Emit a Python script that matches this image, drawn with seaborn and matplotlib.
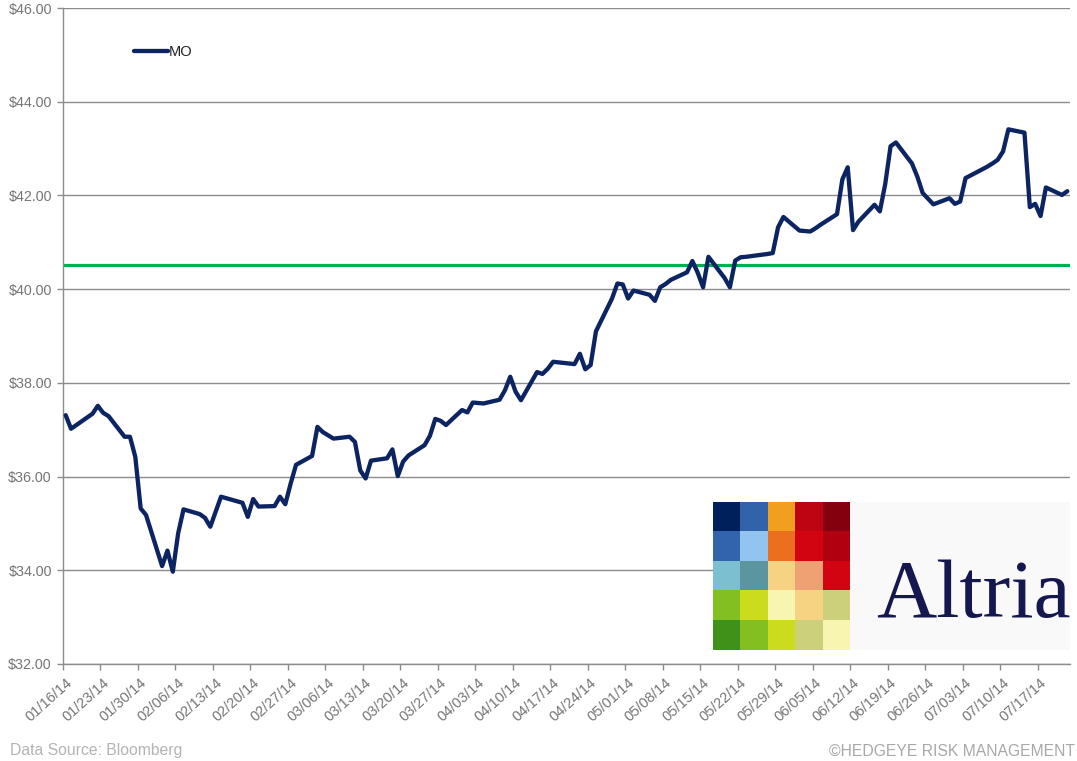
import numpy as np
import pandas as pd
import matplotlib
matplotlib.use("Agg")
import matplotlib.pyplot as plt
import matplotlib.dates as mdates
import matplotlib.transforms as mtrans
from matplotlib.ticker import FuncFormatter
import seaborn as sns

# trading days (NYSE holidays removed)
holidays = ["2014-01-20", "2014-02-17", "2014-04-18", "2014-05-26", "2014-07-04"]
trade_days = pd.bdate_range("2014-01-16", "2014-07-22").drop(pd.to_datetime(holidays))

# MO closing prices
mo_jan = [37.31, 37.02, 37.34, 37.51, 37.36, 37.29, 36.85, 36.85, 36.42, 35.32, 35.18]
mo_feb = [34.09, 34.42, 33.97, 34.79, 35.30, 35.20, 35.12, 34.93, 35.25, 35.57,
          35.44, 35.14, 35.52, 35.36, 35.37, 35.57, 35.41, 35.85, 36.25]
mo_mar = [36.44, 37.06, 36.95, 36.88, 36.81, 36.85, 36.74, 36.13, 35.96, 36.34,
          36.39, 36.58, 36.01, 36.32, 36.45, 36.67, 36.87, 37.23, 37.19, 37.10, 37.42]
mo_apr = [37.37, 37.58, 37.57, 37.56, 37.64, 37.84, 38.13, 37.81, 37.63, 38.23,
          38.19, 38.30, 38.45, 38.40, 38.62, 38.29, 38.38, 39.10, 39.80, 40.12, 40.10]
mo_may = [39.80, 39.97, 39.88, 39.75, 40.04, 40.11, 40.20, 40.36, 40.60, 40.35,
          40.04, 40.69, 40.24, 40.04, 40.61, 40.68, 40.69, 40.75, 40.77, 41.32, 41.54]
mo_jun = [41.25, 41.24, 41.23, 41.30, 41.38, 41.60, 42.34, 42.60, 41.26, 41.44,
          41.80, 41.66, 42.24, 43.05, 43.13, 42.68, 42.40, 42.05, 41.93, 41.81, 41.94]
mo_jul = [41.82, 41.87, 42.37, 42.61, 42.68, 42.76, 42.94, 43.41, 43.34, 41.75,
          41.82, 41.56, 42.17, 42.01, 42.09]
mo_close = mo_jan + mo_feb + mo_mar + mo_apr + mo_may + mo_jun + mo_jul

target_level = 40.52
tick_dates = pd.date_range("2014-01-16", "2014-07-17", freq="7D")
y_ticks = np.arange(32, 47, 2)

# Altria logo squares
logo_colors = [
    ["#00205b", "#3262a9", "#f0a01e", "#be0412", "#85000f"],
    ["#3263ad", "#93c4f0", "#ea7020", "#d20412", "#b1000f"],
    ["#7bbfd0", "#5a95a0", "#f6d283", "#f0a174", "#d20412"],
    ["#84bf22", "#cbdc1e", "#f8f5b0", "#f6d283", "#cdd07a"],
    ["#3e9219", "#84bf22", "#cbdc1e", "#cdd07a", "#f8f5b0"],
]

# excel date axis puts each day's point in the middle of its slot
df = pd.DataFrame({"date": trade_days + pd.Timedelta(hours=12), "MO": mo_close})

sns.set_style("white")
plt.rcParams["font.family"] = ["Liberation Sans", "DejaVu Sans"]

W, H = 1077, 761
fig = plt.figure(figsize=(W / 100, H / 100), dpi=100)
ax = fig.add_axes([63 / W, 1 - 664 / H, (1070 - 63) / W, (664 - 8) / H])

grid_c = "#8c8c8c"
for v in y_ticks:
    ax.axhline(v, color=grid_c, lw=1.0, zorder=0)

sns.lineplot(data=df, x="date", y="MO", ax=ax, color="#0c2461", lw=3.1,
             label="MO", zorder=3)
ax.axhline(target_level, color="#00b050", lw=2.3, zorder=2)

ax.set_xlim(trade_days[0], trade_days[-1] + pd.Timedelta(days=1))
ax.set_ylim(32, 46)
ax.set_yticks(y_ticks)
ax.yaxis.set_major_formatter(FuncFormatter(lambda v, p: f"${v:.2f}"))
ax.set_xticks(tick_dates)
ax.xaxis.set_major_formatter(mdates.DateFormatter("%m/%d/%y"))
ax.set_xlabel("")
ax.set_ylabel("")

for s in ["top", "right"]:
    ax.spines[s].set_visible(False)
for s in ["left", "bottom"]:
    ax.spines[s].set_color(grid_c)
    ax.spines[s].set_linewidth(1.0)

lab_c = "#757575"
ax.tick_params(axis="y", length=4, width=1, color=grid_c, pad=4,
               labelsize=10.3, labelcolor=lab_c, left=True)
ax.tick_params(axis="x", length=4, width=1, color=grid_c, pad=4,
               labelsize=10.5, labelcolor=lab_c, bottom=True)
shift = mtrans.ScaledTranslation(2 / 100, 0, fig.dpi_scale_trans)
for lbl in ax.get_xticklabels():
    lbl.set_rotation(42)
    lbl.set_ha("right")
    lbl.set_va("top")
    lbl.set_rotation_mode("anchor")
    lbl.set_transform(lbl.get_transform() + shift)

leg = ax.legend(loc="center left", bbox_to_anchor=(134 / W, 1 - 52 / H),
                bbox_transform=fig.transFigure, frameon=False, fontsize=10.5,
                handlelength=2.3, handletextpad=0.1, borderpad=0, borderaxespad=0)
for t in leg.get_texts():
    t.set_color("#222222")

# logo
lg = fig.add_axes([713 / W, 1 - 650 / H, 137 / W, 148 / H], zorder=5)
rgb = np.array([[matplotlib.colors.to_rgb(c) for c in row] for row in logo_colors])
lg.imshow(rgb, aspect="auto", interpolation="nearest")
lg.axis("off")
lt = fig.add_axes([850 / W, 1 - 650 / H, 220 / W, 148 / H], zorder=5)
lt.set_facecolor("#f9f9f9")
lt.set_xticks([])
lt.set_yticks([])
for s in lt.spines.values():
    s.set_visible(False)
lt.text(0.12, 0.22, "Altria", transform=lt.transAxes, fontsize=60,
        family="Liberation Serif", color="#15174f", ha="left", va="baseline")

fig.text(10 / W, 1 - 751 / H, "Data Source: Bloomberg", fontsize=11.3,
         color="#b4b4b4", ha="left", va="center")
fig.text(1075 / W, 1 - 751 / H, "\u00a9HEDGEYE RISK MANAGEMENT", fontsize=11.3,
         color="#a8a8a8", ha="right", va="center")

fig.savefig("out.png", dpi=100)
